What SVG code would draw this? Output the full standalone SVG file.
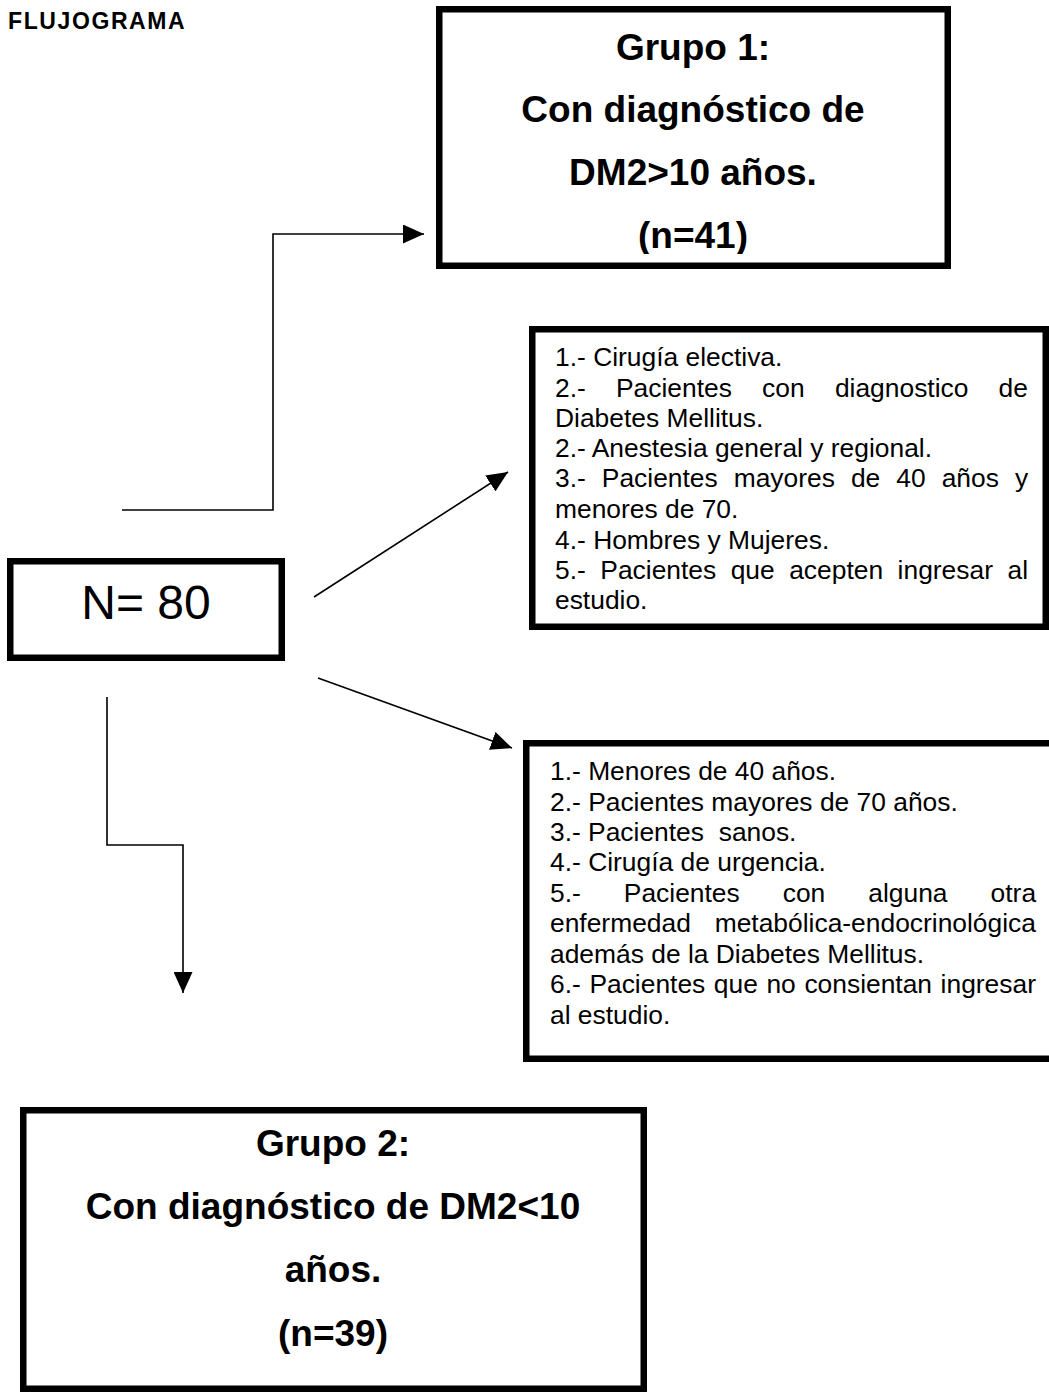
<svg xmlns="http://www.w3.org/2000/svg" width="1049" height="1393" viewBox="0 0 1049 1393">
<style>
.box{fill:#fff;stroke:#000;stroke-width:6.5}
.big{font-family:"Liberation Sans",Arial,sans-serif;font-weight:bold;font-size:37px;fill:#000;text-anchor:middle}
.txt{font-family:"Liberation Sans",Arial,sans-serif;font-size:26.4px;fill:#000}
.title{font-family:"Liberation Sans",Arial,sans-serif;font-weight:bold;font-size:23px;letter-spacing:1.6px;fill:#000}
.conn{fill:none;stroke:#000;stroke-width:1.6}
</style>
<defs>
<marker id="arr" markerUnits="userSpaceOnUse" markerWidth="21" markerHeight="19" refX="21" refY="9.5" orient="auto">
<path d="M0,0 L21,9.5 L0,19 Z" fill="#000"/>
</marker>
<clipPath id="clip1"><rect x="436" y="0" width="520" height="254"/></clipPath>
</defs>
<rect width="1049" height="1393" fill="#fff"/>
<text id="title" class="title" x="8" y="29">FLUJOGRAMA</text>

<g id="grupo1">
<rect class="box" x="439.25" y="9.25" width="508.5" height="256.5"/>
<g clip-path="url(#clip1)">
<text class="big" x="693" y="60">Grupo 1:</text>
<text class="big" x="693" y="122">Con diagnóstico de</text>
<text class="big" x="693" y="185">DM2&gt;10 años.</text>
<text class="big" x="693" y="247.5">(n=41)</text>
</g>
</g>

<g id="n80">
<rect class="box" x="10.25" y="561.25" width="271.5" height="96.5"/>
<text x="146" y="619" font-family="Liberation Sans, Arial, sans-serif" font-size="48" text-anchor="middle">N= 80</text>
</g>

<g id="inclusion">
<rect class="box" x="532.25" y="329.25" width="513.5" height="297.5"/>
<text class="txt" x="555" y="366">1.- Cirugía electiva.</text>
<text class="txt" y="397"><tspan x="555">2.-</tspan><tspan x="616">Pacientes</tspan><tspan x="762.1">con</tspan><tspan x="834.9">diagnostico</tspan><tspan x="998.6">de</tspan></text>
<text class="txt" x="555" y="427">Diabetes Mellitus.</text>
<text class="txt" x="555" y="457">2.- Anestesia general y regional.</text>
<text class="txt" y="487"><tspan x="555">3.-</tspan><tspan x="601.8">Pacientes</tspan><tspan x="733.7">mayores</tspan><tspan x="850.9">de</tspan><tspan x="896.3">40</tspan><tspan x="941.7">años</tspan><tspan x="1014.9">y</tspan></text>
<text class="txt" x="555" y="518">menores de 70.</text>
<text class="txt" x="555" y="549">4.- Hombres y Mujeres.</text>
<text class="txt" y="579"><tspan x="555">5.-</tspan><tspan x="600.3">Pacientes</tspan><tspan x="730.7">que</tspan><tspan x="789.2">acepten</tspan><tspan x="897.6">ingresar</tspan><tspan x="1007.5">al</tspan></text>
<text class="txt" x="555" y="609">estudio.</text>
</g>

<g id="exclusion">
<rect class="box" x="526.25" y="743.25" width="560" height="315.5"/>
<text class="txt" x="550" y="780">1.- Menores de 40 años.</text>
<text class="txt" x="550" y="810.5">2.- Pacientes mayores de 70 años.</text>
<text class="txt" y="841"><tspan x="550">3.-</tspan><tspan x="588.1">Pacientes</tspan><tspan x="718.7">sanos.</tspan></text>
<text class="txt" x="550" y="871">4.- Cirugía de urgencia.</text>
<text class="txt" y="901.5"><tspan x="550">5.-</tspan><tspan x="623.8">Pacientes</tspan><tspan x="782.7">con</tspan><tspan x="868.3">alguna</tspan><tspan x="990.6">otra</tspan></text>
<text class="txt" y="932"><tspan x="550">enfermedad</tspan><tspan x="714.7">metabólica-endocrinológica</tspan></text>
<text class="txt" x="550" y="962.5">además de la Diabetes Mellitus.</text>
<text class="txt" y="993"><tspan x="550">6.-</tspan><tspan x="589.4">Pacientes</tspan><tspan x="713.8">que</tspan><tspan x="766.4">no</tspan><tspan x="804.4">consientan</tspan><tspan x="940.6">ingresar</tspan></text>
<text class="txt" x="550" y="1023.5">al estudio.</text>
</g>

<g id="grupo2">
<rect class="box" x="23.25" y="1110.25" width="620.5" height="278.5"/>
<text class="big" x="333" y="1156">Grupo 2:</text>
<text class="big" x="333" y="1219">Con diagnóstico de DM2&lt;10</text>
<text class="big" x="333" y="1282">años.</text>
<text class="big" x="333" y="1346">(n=39)</text>
</g>

<g id="connectors">
<polyline class="conn" points="122,510 273,510 273,234 424,234" marker-end="url(#arr)"/>
<line class="conn" x1="314" y1="597" x2="508" y2="472" marker-end="url(#arr)"/>
<line class="conn" x1="318" y1="678" x2="512" y2="748" marker-end="url(#arr)"/>
<polyline class="conn" points="107,697 107,845 183,845 183,993" marker-end="url(#arr)"/>
</g>
</svg>
